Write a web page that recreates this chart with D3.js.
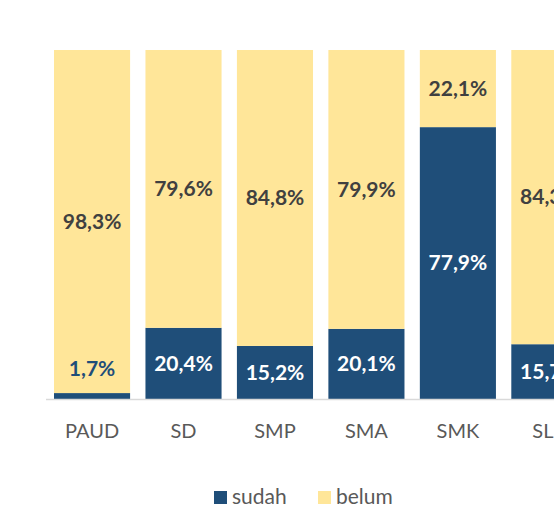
<!DOCTYPE html>
<html><head><meta charset="utf-8">
<script src="https://cdn.jsdelivr.net/npm/d3@7"></script>
<style>body{margin:0;background:#fff}svg{display:block}</style>
</head><body>
<script>
const categories = ["PAUD","SD","SMP","SMA","SMK","SLB"];
const sudah = [1.7, 20.4, 15.2, 20.1, 77.9, 15.7];
const belum = [98.3, 79.6, 84.8, 79.9, 22.1, 84.3];
const seriesNames = ["sudah","belum"];
const colors = {sudah:"#1F4E79", belum:"#FFE699"};

const W=554,H=516;
const svg=d3.select("body").append("svg").attr("width",W).attr("height",H);
const font="Lato, 'Open Sans', sans-serif";

const x=d3.scaleBand().domain(categories).range([54,587.4]).paddingInner(0.168).paddingOuter(0);
const y=d3.scaleLinear().domain([0,100]).range([399,50]);

const data=categories.map((c,i)=>({cat:c,sudah:sudah[i],belum:belum[i]}));
const stack=d3.stack().keys(seriesNames)(data);

svg.append("g").selectAll("g").data(stack).join("g")
  .attr("fill",d=>colors[d.key])
  .selectAll("rect").data(d=>d).join("rect")
  .attr("x",d=>x(d.data.cat)).attr("width",x.bandwidth())
  .attr("y",d=>y(d[1])).attr("height",d=>y(d[0])-y(d[1]));

// axis
const ax=svg.append("g").attr("transform","translate(0,399)")
  .call(d3.axisBottom(x).tickSize(0).tickPadding(0));
ax.select(".domain").remove();
svg.append("line").attr("x1",46).attr("x2",W).attr("y1",399.5).attr("y2",399.5)
  .attr("stroke","#d9d9d9").attr("stroke-width",1.5);
ax.selectAll("text").attr("font-family",font).attr("font-size",20)
  .attr("fill","#595959").attr("dy",0).attr("y",39);

const fmt=v=>v.toFixed(1).replace(".",",")+"%";
const lbl=svg.append("g").attr("font-family",font).attr("font-size",21).attr("font-weight","bold")
  .attr("text-anchor","middle");
stack.forEach(s=>{
  s.forEach(d=>{
    const v=d.data[s.key];
    const small=v<5;
    const cy = small ? y(d[1]+7) : (y(d[0])+y(d[1]))/2;
    lbl.append("text").attr("x",x(d.data.cat)+x.bandwidth()/2).attr("y",cy)
      .attr("dy","0.35em")
      .attr("fill", s.key==="sudah" ? (small?"#1F4E79":"#ffffff") : "#404040")
      .text(fmt(v));
  });
});

// legend
const leg=svg.append("g").attr("font-family",font).attr("font-size",21).attr("fill","#595959");
const lx=[214,318];
seriesNames.forEach((k,i)=>{
  leg.append("rect").attr("x",lx[i]).attr("y",491).attr("width",13).attr("height",13).attr("fill",colors[k]);
  leg.append("text").attr("x",lx[i]+18).attr("y",504).attr("fill","#595959").text(k);
});
</script>
</body></html>
